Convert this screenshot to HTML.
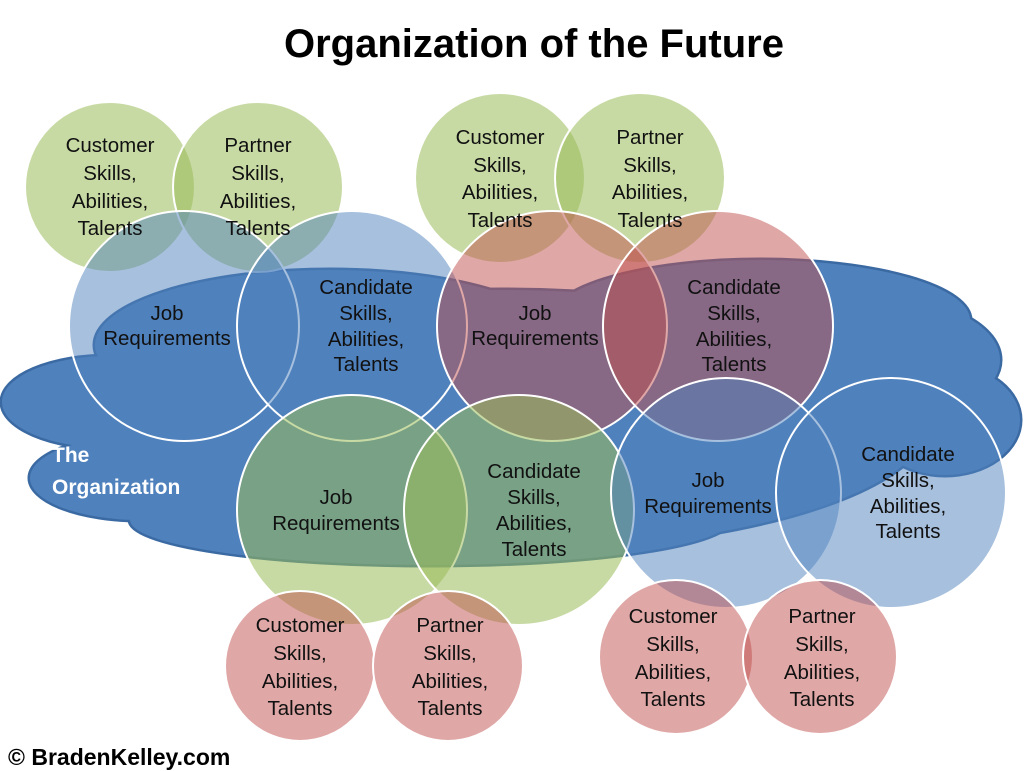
<!DOCTYPE html>
<html><head><meta charset="utf-8"><style>
html,body{margin:0;padding:0;background:#fff}
svg{display:block}
text{font-family:"Liberation Sans","DejaVu Sans",sans-serif;font-size:20.5px;fill:#111;text-anchor:middle}
</style></head><body>
<svg width="1024" height="771" viewBox="0 0 1024 771">
<text x="534" y="57" style="font-size:40px;font-weight:bold;fill:#000">Organization of the Future</text>
<g id="cloud">
<g stroke="#3b6aa3" stroke-width="5" fill="#4f81bd">
<ellipse cx="110" cy="402" rx="108" ry="46"/>
<ellipse cx="140" cy="478" rx="110" ry="42"/>
<ellipse cx="500" cy="420" rx="430" ry="130"/>
<ellipse cx="330" cy="345" rx="235" ry="75"/>
<ellipse cx="760" cy="320" rx="210" ry="60"/>
<ellipse cx="880" cy="360" rx="120" ry="62"/>
<ellipse cx="945" cy="420" rx="75" ry="55"/>
<ellipse cx="430" cy="520" rx="300" ry="45"/>
</g>
<g fill="#4f81bd">
<ellipse cx="110" cy="402" rx="108" ry="46"/>
<ellipse cx="140" cy="478" rx="110" ry="42"/>
<ellipse cx="500" cy="420" rx="430" ry="130"/>
<ellipse cx="330" cy="345" rx="235" ry="75"/>
<ellipse cx="760" cy="320" rx="210" ry="60"/>
<ellipse cx="880" cy="360" rx="120" ry="62"/>
<ellipse cx="945" cy="420" rx="75" ry="55"/>
<ellipse cx="430" cy="520" rx="300" ry="45"/>
</g>
</g>
<text x="52" y="462" style="font-size:21px;font-weight:bold;fill:#fff;text-anchor:start">The</text>
<text x="52" y="494" style="font-size:21px;font-weight:bold;fill:#fff;text-anchor:start">Organization</text>
<g stroke="#fff" stroke-width="2">
<g fill="rgba(155,187,89,0.55)">
<circle cx="110" cy="187" r="85"/><circle cx="258" cy="187" r="85"/>
<circle cx="500" cy="178" r="85"/><circle cx="640" cy="178" r="85"/>
</g>
<g fill="rgba(79,129,189,0.5)">
<circle cx="184" cy="326" r="115"/><circle cx="352" cy="326" r="115"/>
</g>
<g fill="rgba(192,80,77,0.5)">
<circle cx="552" cy="326" r="115"/><circle cx="718" cy="326" r="115"/>
</g>
<g fill="rgba(155,187,89,0.55)">
<circle cx="352" cy="510" r="115"/><circle cx="519" cy="510" r="115"/>
</g>
<g fill="rgba(79,129,189,0.5)">
<circle cx="726" cy="493" r="115"/><circle cx="891" cy="493" r="115"/>
</g>
<g fill="rgba(192,80,77,0.5)">
<circle cx="300" cy="666" r="75"/><circle cx="448" cy="666" r="75"/>
<circle cx="676" cy="657" r="77"/><circle cx="820" cy="657" r="77"/>
</g>
</g>
<g>
<text x="110" y="152">Customer</text><text x="110" y="180">Skills,</text><text x="110" y="208">Abilities,</text><text x="110" y="235">Talents</text>
<text x="258" y="152">Partner</text><text x="258" y="180">Skills,</text><text x="258" y="208">Abilities,</text><text x="258" y="235">Talents</text>
<text x="500" y="144">Customer</text><text x="500" y="172">Skills,</text><text x="500" y="199">Abilities,</text><text x="500" y="227">Talents</text>
<text x="650" y="144">Partner</text><text x="650" y="172">Skills,</text><text x="650" y="199">Abilities,</text><text x="650" y="227">Talents</text>
<text x="167" y="320">Job</text><text x="167" y="345">Requirements</text>
<text x="366" y="294">Candidate</text><text x="366" y="320">Skills,</text><text x="366" y="346">Abilities,</text><text x="366" y="371">Talents</text>
<text x="535" y="320">Job</text><text x="535" y="345">Requirements</text>
<text x="734" y="294">Candidate</text><text x="734" y="320">Skills,</text><text x="734" y="346">Abilities,</text><text x="734" y="371">Talents</text>
<text x="336" y="504">Job</text><text x="336" y="530">Requirements</text>
<text x="534" y="478">Candidate</text><text x="534" y="504">Skills,</text><text x="534" y="530">Abilities,</text><text x="534" y="556">Talents</text>
<text x="708" y="487">Job</text><text x="708" y="513">Requirements</text>
<text x="908" y="461">Candidate</text><text x="908" y="487">Skills,</text><text x="908" y="513">Abilities,</text><text x="908" y="538">Talents</text>
<text x="300" y="632">Customer</text><text x="300" y="660">Skills,</text><text x="300" y="688">Abilities,</text><text x="300" y="715">Talents</text>
<text x="450" y="632">Partner</text><text x="450" y="660">Skills,</text><text x="450" y="688">Abilities,</text><text x="450" y="715">Talents</text>
<text x="673" y="623">Customer</text><text x="673" y="651">Skills,</text><text x="673" y="679">Abilities,</text><text x="673" y="706">Talents</text>
<text x="822" y="623">Partner</text><text x="822" y="651">Skills,</text><text x="822" y="679">Abilities,</text><text x="822" y="706">Talents</text>
</g>
<text x="8" y="765" style="font-size:23px;font-weight:bold;fill:#000;text-anchor:start">© BradenKelley.com</text>
</svg>
</body></html>
